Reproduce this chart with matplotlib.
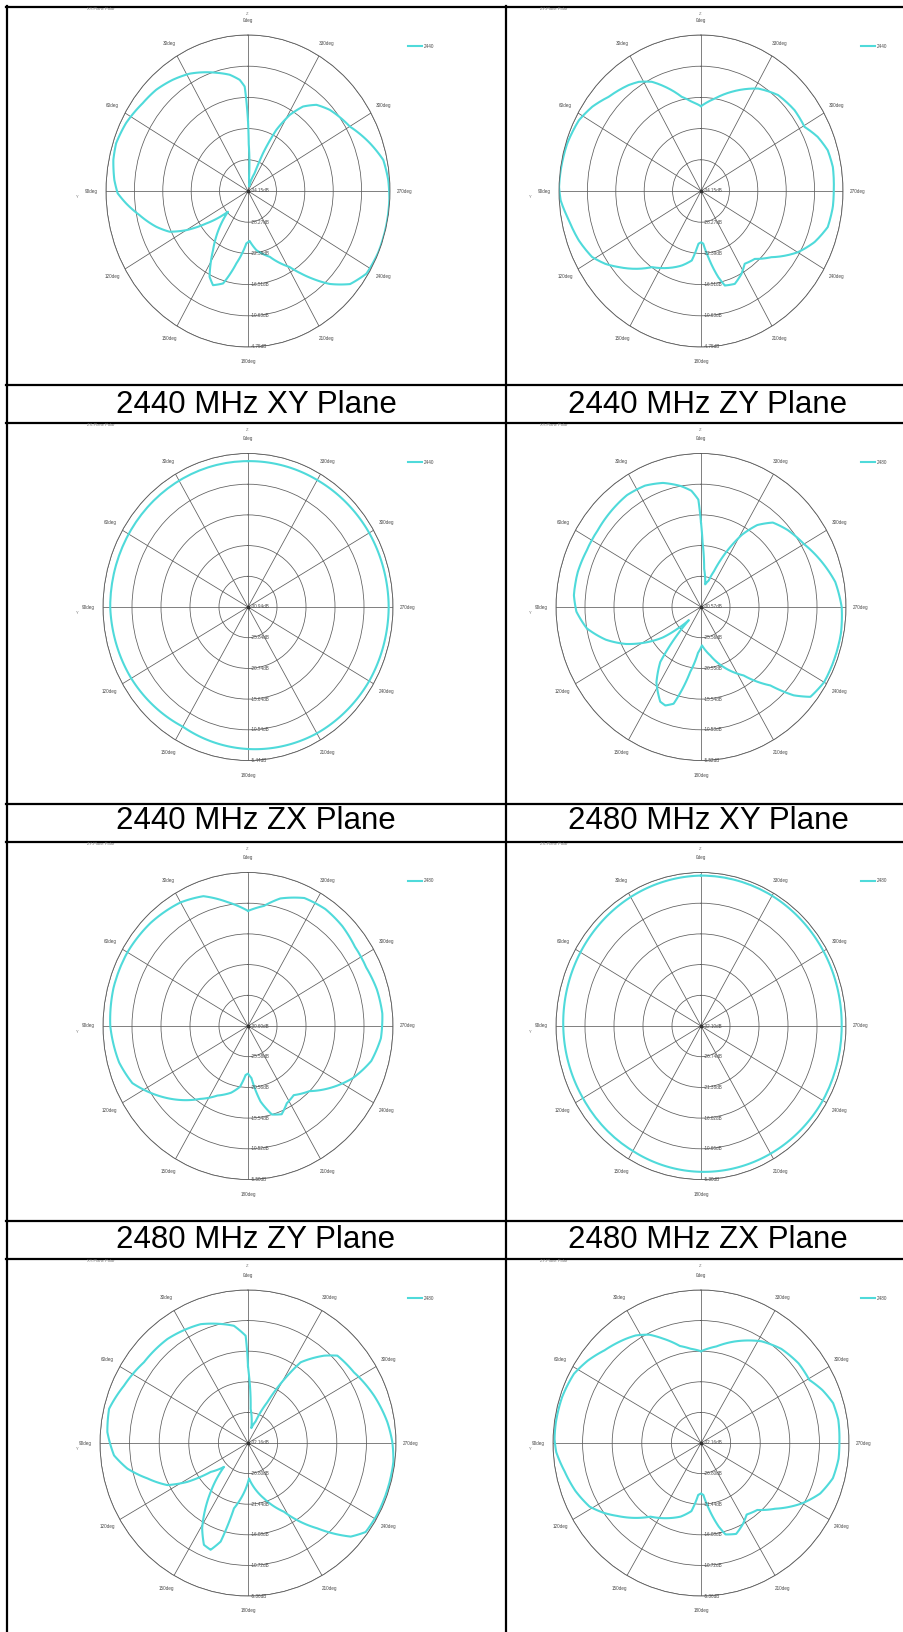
import numpy as np
import matplotlib
matplotlib.use("Agg")
import matplotlib.pyplot as plt

plt.rcParams['font.family'] = ['Liberation Sans', 'DejaVu Sans']

W, H = 904, 1632
CYAN = "#4fdada"
GRID = "#5c5c5c"
TXT = "#4a4a4a"

captions = ["2440 MHz XY Plane", "2440 MHz ZY Plane",
            "2440 MHz ZX Plane", "2480 MHz XY Plane",
            "2480 MHz ZY Plane", "2480 MHz ZX Plane"]
legend_names = ["2440", "2440", "2440", "2480", "2480", "2480", "2480", "2480"]
plot_titles = ["XY-Plane Polar", "ZY-Plane Polar", "ZX-Plane Polar", "XY-Plane Polar",
               "ZY-Plane Polar", "ZX-Plane Polar", "XY-Plane Polar", "ZY-Plane Polar"]
# centre value of each chart and ring spacing, dB
r_center = [-34.15, -34.15, -30.94, -30.57, -30.60, -32.10, -32.16, -32.16]
r_step = [5.88, 5.88, 5.10, 5.01, 5.02, 5.36, 5.36, 5.36]

# 2440 MHz XY
xy2440_ang = [0, 1.2, 2, 4.7, 9.8, 16.4, 24.2, 28.7, 36.6, 44.9, 52.8, 63.1, 71.8,
              78.1, 85.7, 90.9, 95.3, 101.4, 109.5, 115.3, 120, 125.3, 131.2, 133.3,
              147, 153.8, 157.8, 163.5, 170, 178, 182, 188.9, 200, 211, 215, 219, 224,
              230.3, 237.6, 246.7, 257, 266.7, 274.1, 281.8, 289.6, 299.9, 312.1,
              318.9, 324.4, 328.9, 333, 336.4, 338, 346, 355, 359, 360]
xy2440_db = [-20.92, -16.95, -14.45, -13.13, -11.92, -10.92, -9.66, -8.95, -8.04,
             -7.22, -6.78, -5.84, -5.40, -5.66, -6.40, -7.16, -8.81, -11.22, -13.98,
             -16.19, -19.39, -23.57, -27.27, -28.45, -20.86, -16.13, -14.98, -15.98,
             -20.30, -24.27, -24.74, -22.86, -20.95, -17.45, -15.25, -12.87, -9.8,
             -6.69, -5.10, -4.8, -4.8, -4.84, -5.04, -5.54, -7.34, -9.81, -11.34,
             -12.60, -14.57, -17.39, -21.21, -26.39, -30.62, -33.27, -31.80, -25.33,
             -20.92]

# 2440 MHz ZY
zy2440_ang = [0, 6.5, 12.7, 20.7, 26.3, 32.1, 36.9, 47.1, 54.8, 62.2, 72.1, 82.3, 88.5,
              93.5, 101.4, 110.2, 118.9, 124.8, 130.1, 144.7, 164.1, 171.7, 176.8, 180,
              182.7, 186.9, 192.4, 195.5, 201.8, 208.2, 213.4, 221, 229.4, 240.1, 247.7,
              255.5, 263.7, 270.2, 279.4, 286.3, 292.9, 299.4, 308.2, 318.6, 328.5,
              341.3, 350.6, 360]
zy2440_db = [-18.16, -17.22, -15.95, -13.16, -11.19, -9.87, -9.19, -8.07, -6.60, -5.57,
             -5.04, -4.84, -4.75, -5.04, -6.25, -7.19, -8.40, -10.07, -11.89, -16.57,
             -19.54, -20.92, -24.18, -24.51, -24.21, -21.60, -17.54, -15.66, -15.30,
             -16.42, -17.72, -17.19, -14.98, -11.01, -8.75, -7.04, -6.69, -6.66, -6.48,
             -6.81, -7.93, -9.54, -9.51, -10.04, -11.51, -14.42, -16.48, -18.16]

# 2440 MHz ZX
zx2440_ang = [0, 30, 60, 90, 120, 150, 180, 210, 240, 270, 300, 330, 360]
zx2440_db = [-6.71, -6.71, -6.71, -6.71, -7.23, -7.99, -7.35, -6.71, -6.33, -6.20,
             -6.33, -6.59, -6.71]

# 2480 MHz XY
xy2480_ang = [0, 1.5, 5, 10, 18, 26, 35, 45, 55, 65, 75, 85, 92, 100, 108, 115, 121,
              127, 131, 135.6, 141.9, 148, 155.5, 159, 163.3, 170, 176, 181.5, 191.5,
              201.7, 213.4, 223.1, 228, 232.2, 240, 250, 260, 270, 280, 290, 300, 310,
              318, 324, 329, 334, 339, 343, 349, 355, 358.5, 360]
xy2480_db = [-16.79, -13.04, -11.53, -10.53, -9.28, -8.53, -8.28, -8.53, -8.78, -8.78,
             -8.53, -8.53, -9.03, -10.53, -13.29, -16.29, -19.30, -22.30, -25.06, -27.56,
             -19.17, -16.04, -13.59, -13.36, -14.09, -19.80, -23.06, -24.31, -22.50,
             -20.02, -17.19, -13.04, -9.03, -6.65, -6.02, -6.02, -6.02, -6.27, -7.02,
             -8.53, -10.03, -11.03, -12.03, -14.04, -16.79, -20.55, -24.31, -26.06,
             -26.81, -24.31, -20.05, -16.79]

# 2480 MHz ZY
zy2480_ang = [0, 10, 20, 30, 45, 60, 75, 90, 105, 115, 125, 135, 145, 155, 165, 172,
              177, 180, 184, 190, 196, 202, 208, 215, 225, 235, 245, 255, 265, 275, 285,
              295, 305, 315, 325, 335, 345, 352, 360]
zy2480_db = [-11.78, -10.02, -8.01, -7.26, -6.76, -6.50, -6.50, -6.76, -7.51, -8.51,
             -11.02, -13.53, -16.04, -18.05, -19.31, -20.56, -22.57, -22.82, -22.07,
             -18.05, -15.54, -15.04, -16.29, -16.80, -15.54, -13.03, -10.52, -8.51,
             -7.51, -7.26, -7.51, -8.01, -8.01, -7.51, -7.26, -7.51, -9.01, -10.77, -11.78]

# 2480 MHz ZX
zx2480_ang = [0, 30, 60, 90, 120, 150, 180, 210, 240, 270, 300, 330, 360]
zx2480_db = [-5.84, -6.10, -6.37, -6.64, -6.91, -6.91, -6.64, -6.37, -6.10, -6.10,
             -5.97, -5.84, -5.84]

# bottom row (caption cut off)
xy2480b_ang = [0, 0.5, 1.3, 7.1, 22.4, 38.7, 53.1, 65.9, 76.6, 85.7, 95.1, 101.6, 108.8,
               116.8, 121.8, 126.9, 133.9, 141.7, 150.9, 155.9, 160.1, 164, 167.5, 181.7,
               196.6, 208.4, 220, 228.6, 233.8, 241.8, 252.1, 262.9, 270.4, 278.3, 290,
               302.8, 313.4, 318, 326, 328.8, 333.9, 340, 347, 355.4, 359.1, 360]
xy2480b_db = [-18.76, -16.29, -13.37, -11.47, -9.65, -8.82, -8.60, -7.56, -6.30, -6.62,
              -7.80, -9.86, -12.92, -15.81, -19.24, -23.72, -26.13, -21.28, -15.09,
              -12.62, -12.27, -14.20, -20.45, -25.94, -22.03, -18.47, -12.65, -7.37,
              -5.76, -5.63, -5.63, -5.63, -6.03, -6.67, -7.88, -9.33, -9.89, -11.58,
              -15.11, -18.38, -24.20, -28.14, -29.48, -26.16, -20.37, -18.76]
zy2480b_ang = zy2440_ang
zy2480b_db = [-16.08, -15.54, -14.74, -12.60, -10.99, -9.92, -9.38, -8.31, -7.10, -6.16,
              -5.76, -5.63, -5.63, -5.90, -6.97, -7.91, -9.11, -10.72, -12.33, -16.35,
              -18.76, -20.10, -23.05, -23.32, -23.05, -20.64, -17.15, -15.54, -15.01,
              -16.08, -17.15, -16.62, -14.47, -10.99, -8.84, -7.50, -7.10, -7.10, -6.97,
              -7.24, -8.31, -9.65, -9.65, -10.18, -11.26, -13.40, -15.01, -16.08]

series = [(xy2440_ang, xy2440_db), (zy2440_ang, zy2440_db),
          (zx2440_ang, zx2440_db), (xy2480_ang, xy2480_db),
          (zy2480_ang, zy2480_db), (zx2480_ang, zx2480_db),
          (xy2480b_ang, xy2480b_db), (zy2480b_ang, zy2480b_db)]

fig = plt.figure(figsize=(W / 100, H / 100), dpi=100)

# table lines and captions
ov = fig.add_axes([0, 0, 1, 1])
ov.set_xlim(0, W)
ov.set_ylim(H, 0)
ov.axis("off")
ov.plot([7, 7], [6, H], color="black", lw=1.6)
ov.plot([506, 506], [6, H], color="black", lw=1.6)
for y in [7, 385, 423, 804, 842, 1221, 1259]:
    ov.plot([6, W], [y, y], color="black", lw=1.6)

row_top = [7, 423, 842, 1259]
row_rx = [142, 145, 145, 148]
row_ry = [156, 153.5, 153.5, 153]
col_cx = [248, 701]
cap_x = [256, 708]
for i, cap in enumerate(captions):
    r, c = divmod(i, 2)
    ov.text(cap_x[c], row_top[r] + 378 + 20, cap, fontsize=22.5, ha="center", va="center")

angles = list(range(0, 360, 30))
for i, (ang, db) in enumerate(series):
    r, c = divmod(i, 2)
    cx = col_cx[c]
    cy = row_top[r] + 184
    rx, ry = row_rx[r], row_ry[r]
    ax = fig.add_axes([(cx - rx) / W, 1 - (cy + ry) / H, 2 * rx / W, 2 * ry / H],
                      projection="polar")
    ax.set_aspect("auto")
    ax.set_theta_zero_location("N")
    ax.set_theta_direction(1)
    ticks = [r_center[i] + k * r_step[i] for k in range(6)]
    ax.set_rlim(ticks[0], ticks[-1])
    ax.set_rticks(ticks)
    ax.set_yticklabels([])
    ax.set_thetagrids(angles, labels=["%ddeg" % a for a in angles], fontsize=3.3, color=TXT)
    ax.tick_params(axis="x", pad=0)
    ax.grid(color=GRID, lw=0.55)
    ax.spines["polar"].set_color(GRID)
    ax.spines["polar"].set_linewidth(0.6)
    for t in ticks:
        ax.annotate("%.2fdB" % t, xy=(np.pi, t), xytext=(2, 0), textcoords="offset points",
                    fontsize=3.3, color=TXT, ha="left", va="center")
    line, = ax.plot(np.radians(ang), db, color=CYAN, lw=1.5, label=legend_names[i])
    # follow the circle between measured points instead of cutting straight across
    line.get_path()._interpolation_steps = 30
    ax.plot([0], [ticks[0]], "o", ms=1.8, color="#333333")
    ax.legend(loc="center left", bbox_to_anchor=((cx + 158) / W, 1 - (cy - 145) / H),
              bbox_transform=fig.transFigure, frameon=False, fontsize=3.3,
              handlelength=3.0, handletextpad=0.4, borderpad=0, labelcolor=TXT)
    ov.text(cx - 161, cy - 182, plot_titles[i], fontsize=3, color="#777777", va="center")
    ov.text(cx - 1, cy - 177, "Z", fontsize=3, color="#777777", ha="center", va="center")
    ov.text(cx - 171, cy + 6, "Y", fontsize=3, color="#777777", ha="center", va="center")

fig.savefig("out.png", dpi=100)
